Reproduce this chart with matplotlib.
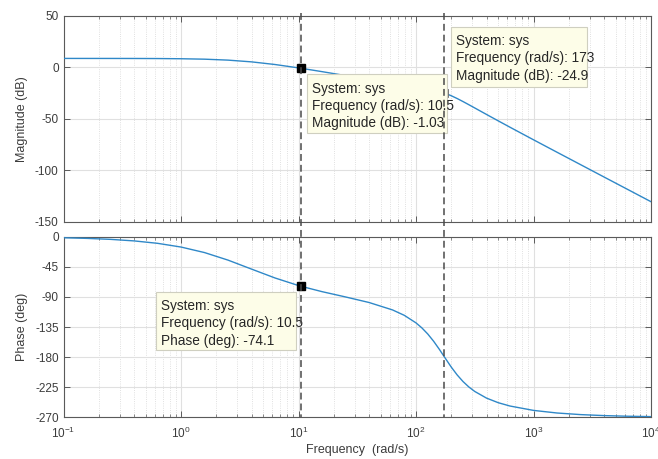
import matplotlib
matplotlib.use('Agg')
import matplotlib.pyplot as plt
from matplotlib.transforms import blended_transform_factory
from matplotlib.patches import Rectangle
from matplotlib.lines import Line2D
from matplotlib.ticker import LogLocator, FixedLocator, NullFormatter

# ---------------- data ----------------
freq = [0.1, 0.1585, 0.2512, 0.3981, 0.631, 1.0, 1.585, 2.512, 3.981, 6.31,
        10.0, 10.5, 15.85, 25.12, 39.81, 63.1, 79.43, 100.0, 112.2, 125.9,
        141.3, 158.5, 173.0, 199.5, 223.9, 251.2, 281.8, 316.2, 398.1, 501.2,
        631.0, 1000.0, 1585.0, 2512.0, 3981.0, 6310.0, 10000.0]
mag_db = [8.52, 8.51, 8.50, 8.47, 8.40, 8.21, 7.79, 6.87, 5.18, 2.61,
          -0.66, -1.03, -4.31, -8.12, -11.93, -15.60, -17.34, -19.03, -19.91, -20.88,
          -22.03, -23.49, -24.90, -27.70, -30.40, -33.35, -36.43, -39.57, -45.87, -52.11,
          -58.28, -70.47, -82.55, -94.57, -106.59, -118.59, -130.59]
phase_deg = [-1.58, -2.51, -3.97, -6.27, -9.89, -15.46, -23.72, -35.00, -48.41, -61.70,
             -73.02, -74.10, -82.14, -90.06, -98.35, -109.46, -117.52, -128.84, -136.34, -145.44,
             -156.33, -168.72, -178.78, -194.90, -206.60, -216.51, -224.68, -231.35, -241.29, -248.18,
             -253.15, -259.68, -263.57, -265.96, -267.46, -268.40, -268.99]

tip_freqs = [10.5, 173]
tip_mag = [-1.03, -24.9]
tip_phase = [-74.1]

mag_ticks = [50, 0, -50, -100, -150]
phase_ticks = [0, -45, -90, -135, -180, -225, -270]
xlim = [0.1, 10000]

# ---------------- style ----------------
plt.rcParams['font.family'] = ['Liberation Sans', 'DejaVu Sans']
plt.rcParams['mathtext.fontset'] = 'custom'
plt.rcParams['mathtext.rm'] = 'Liberation Sans'
plt.rcParams['mathtext.it'] = 'Liberation Sans:italic'
plt.rcParams['mathtext.bf'] = 'Liberation Sans:bold'
plt.rcParams['mathtext.default'] = 'regular'
plt.rcParams['axes.unicode_minus'] = False

W, H = 658, 459
fig = plt.figure(figsize=(W / 100, H / 100), dpi=100)

def fx(px):
    return px / W

def fy(py):
    return 1 - py / H

left, right = 63.5, 651.0
ax_m = fig.add_axes([fx(left), fy(221.7), fx(right) - fx(left), fy(15.7) - fy(221.7)])
ax_p = fig.add_axes([fx(left), fy(417.3), fx(right) - fx(left), fy(236.7) - fy(417.3)])

LINE_C = '#2f88c8'
AX_C = '#5a5a5a'
TXT_C = '#3c3c3c'

for ax in (ax_m, ax_p):
    ax.set_xscale('log')
    ax.set_xlim(xlim)
    ax.xaxis.set_major_locator(LogLocator(base=10, numticks=20))
    ax.xaxis.set_minor_locator(LogLocator(base=10, subs=range(2, 10), numticks=100))
    ax.xaxis.set_minor_formatter(NullFormatter())
    ax.grid(which='major', color='#e0e0e0', lw=0.8, ls='-')
    ax.grid(which='minor', axis='x', color='#d6d6d6', lw=0.6, ls=':')
    ax.set_axisbelow(True)
    ax.tick_params(which='both', direction='in', top=True, right=True,
                   colors=AX_C, labelcolor=TXT_C, labelsize=8.5)
    ax.tick_params(which='major', length=4, width=0.7)
    ax.tick_params(which='minor', length=2, width=0.5)
    ax.tick_params(axis='x', which='major', pad=6)
    for s in ax.spines.values():
        s.set_color(AX_C)
        s.set_linewidth(0.8)

ax_m.plot(freq, mag_db, color=LINE_C, lw=1.0, zorder=3)
ax_m.set_ylim(min(mag_ticks), max(mag_ticks))
ax_m.yaxis.set_major_locator(FixedLocator(mag_ticks))
ax_m.tick_params(axis='x', labelbottom=False)
ax_m.set_ylabel('Magnitude (dB)', fontsize=9, color=TXT_C, labelpad=5)

ax_p.plot(freq, phase_deg, color=LINE_C, lw=1.0, zorder=3)
ax_p.set_ylim(min(phase_ticks), max(phase_ticks))
ax_p.yaxis.set_major_locator(FixedLocator(phase_ticks))
ax_p.set_ylabel('Phase (deg)', fontsize=9, color=TXT_C, labelpad=5)
ax_p.set_xlabel('Frequency  (rad/s)', fontsize=9, color=TXT_C, labelpad=2)

# markers
ax_m.plot([tip_freqs[0]], [tip_mag[0]], 's', ms=6, color='black', zorder=6, clip_on=False)
ax_m.plot([tip_freqs[1]], [tip_mag[1]], 's', ms=6, mfc='#8a8a8a', mec='#6a6a6a', mew=0.6,
          zorder=7, clip_on=False)
ax_p.plot([tip_freqs[0]], [tip_phase[0]], 's', ms=6, color='black', zorder=6, clip_on=False)

# dashed vertical cursor lines spanning both panels
trans = blended_transform_factory(ax_m.transData, fig.transFigure)
for f in tip_freqs:
    ln = Line2D([f, f], [fy(13), fy(417.3)], transform=trans, color='#4a4a4a',
                lw=1.1, ls=(0, (4.5, 2.6)), zorder=8)
    fig.add_artist(ln)

# data tip boxes
def datatip(x0, y0, x1, y1, lines):
    rect = Rectangle((fx(x0), fy(y1)), fx(x1) - fx(x0), fy(y0) - fy(y1),
                     transform=fig.transFigure, facecolor='#fdfde8',
                     edgecolor='#cfcfc0', lw=0.8, zorder=5)
    fig.add_artist(rect)
    for i, t in enumerate(lines):
        fig.text(fx(x0 + 5), fy(y0 + 18.3 + 17.3 * i), t, fontsize=9.8,
                 color='#262626', va='baseline', ha='left', zorder=6)

datatip(307.3, 74.3, 447.3, 133.3,
        ['System: sys', f'Frequency (rad/s): {tip_freqs[0]:g}', f'Magnitude (dB): {tip_mag[0]:g}'])
datatip(451.0, 26.7, 586.7, 86.7,
        ['System: sys', f'Frequency (rad/s): {tip_freqs[1]:g}', f'Magnitude (dB): {tip_mag[1]:g}'])
datatip(155.7, 291.7, 295.7, 350.0,
        ['System: sys', f'Frequency (rad/s): {tip_freqs[0]:g}', f'Phase (deg): {tip_phase[0]:g}'])

fig.savefig('out.png', dpi=100, facecolor='white')
